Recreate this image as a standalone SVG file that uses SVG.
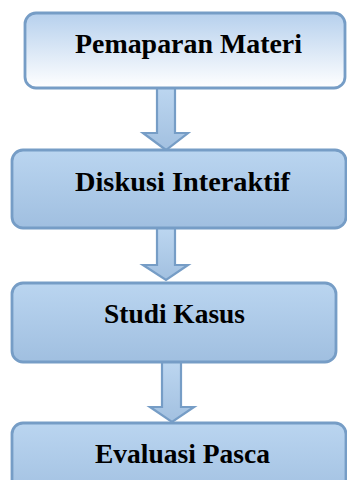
<svg xmlns="http://www.w3.org/2000/svg" width="347" height="480" viewBox="0 0 347 480">
<defs>
<linearGradient id="g1" x1="0" y1="0" x2="0" y2="1">
<stop offset="0" stop-color="#b6d0ed"/>
<stop offset="1" stop-color="#ffffff"/>
</linearGradient>
<linearGradient id="g2" x1="0" y1="0" x2="0" y2="1">
<stop offset="0" stop-color="#bad5f0"/>
<stop offset="1" stop-color="#a0bfe0"/>
</linearGradient>
<linearGradient id="ga" x1="0" y1="0" x2="0" y2="1">
<stop offset="0" stop-color="#bcd6f0"/>
<stop offset="1" stop-color="#a2c0e0"/>
</linearGradient>
<style>
.box{stroke:#769dc6;stroke-width:2.8}
.arr{fill:url(#ga);stroke:#769dc6;stroke-width:2.2;stroke-linejoin:miter}
.t{font-family:"Liberation Serif","DejaVu Serif",serif;font-weight:bold;font-size:27px;fill:#000;text-anchor:middle}
</style>
</defs>
<g id="connectors">
<path class="arr" d="M157,88 L175,88 L175,133 L188,133 L166,150 L143,133 L157,133 Z"/>
<path class="arr" d="M157,228 L175,228 L175,265 L188,265 L166,280 L143,265 L157,265 Z"/>
<path class="arr" d="M162,362 L181,362 L181,407 L194,407 L172,422 L150,407 L162,407 Z"/>
</g>
<g id="n1">
<rect class="box" x="25" y="13" width="320" height="75" rx="11" fill="url(#g1)"/>
<text class="t" x="188.5" y="53" textLength="227" lengthAdjust="spacingAndGlyphs">Pemaparan Materi</text>
</g>
<g id="n2">
<rect class="box" x="12" y="150" width="334" height="78" rx="11" fill="url(#g2)"/>
<text class="t" x="182.5" y="191" textLength="215" lengthAdjust="spacingAndGlyphs">Diskusi Interaktif</text>
</g>
<g id="n3">
<rect class="box" x="12" y="283" width="324" height="79" rx="11" fill="url(#g2)"/>
<text class="t" x="174.5" y="323" textLength="141" lengthAdjust="spacingAndGlyphs">Studi Kasus</text>
</g>
<g id="n4">
<rect class="box" x="12" y="423" width="334" height="80" rx="11" fill="url(#g2)"/>
<text class="t" x="182.5" y="463" textLength="175" lengthAdjust="spacingAndGlyphs">Evaluasi Pasca</text>
</g>
</svg>
